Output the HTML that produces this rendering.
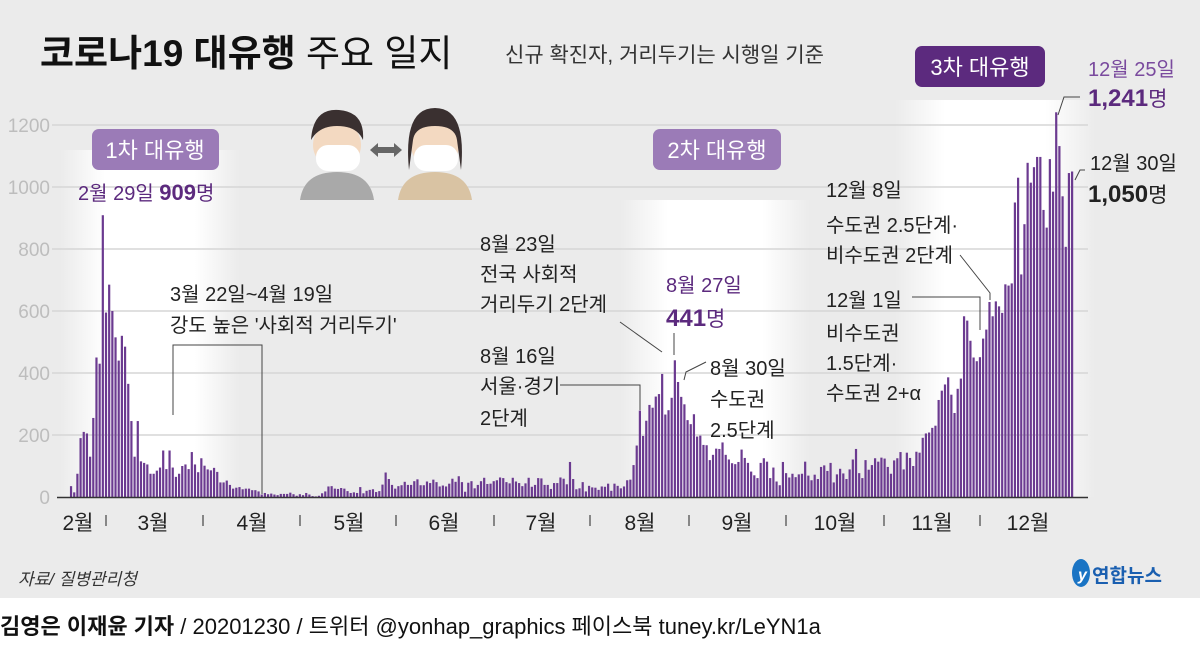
<!DOCTYPE html>
<html><head><meta charset="utf-8">
<style>
body{margin:0;width:1200px;height:643px;overflow:hidden;background:#fff;font-family:"Liberation Sans","Noto Sans CJK KR",sans-serif;}
svg text{font-family:"Liberation Sans","Noto Sans CJK KR",sans-serif;}
</style></head><body>
<svg id="c" width="1200" height="643" xmlns="http://www.w3.org/2000/svg">
<defs>
<linearGradient id="g" x1="0" x2="1" y1="0" y2="0">
<stop offset="0" stop-color="#fff" stop-opacity="0"/><stop offset="0.25" stop-color="#fff" stop-opacity="1"/><stop offset="0.75" stop-color="#fff" stop-opacity="1"/><stop offset="1" stop-color="#fff" stop-opacity="0"/></linearGradient>
</defs>
<rect x="0" y="0" width="1200" height="598" fill="#ebebeb"/>
<rect x="60" y="150" width="180" height="347" fill="url(#g)"/>
<rect x="620" y="200" width="190" height="297" fill="url(#g)"/>
<rect x="895" y="100" width="200" height="397" fill="url(#g)"/>
<g id="grid" stroke="#d6d6d6" stroke-width="1.5"></g>
<g id="ylab" fill="#bdbdbd" font-size="19" text-anchor="end"></g>
<g id="bars" fill="#6b3a90"></g>
<line x1="57" y1="497.5" x2="1088" y2="497.5" stroke="#333" stroke-width="1.5"/>
<g font-size="21" fill="#222" text-anchor="middle">
<text x="78" y="530">2월</text><text x="153" y="530">3월</text><text x="252" y="530">4월</text><text x="349" y="530">5월</text><text x="444" y="530">6월</text><text x="541" y="530">7월</text><text x="640" y="530">8월</text><text x="737" y="530">9월</text><text x="835" y="530">10월</text><text x="932" y="530">11월</text><text x="1028" y="530">12월</text>
</g>
<g stroke="#444" stroke-width="1.2">
<line x1="106" y1="515" x2="106" y2="526"/><line x1="203" y1="515" x2="203" y2="526"/><line x1="300" y1="515" x2="300" y2="526"/><line x1="396" y1="515" x2="396" y2="526"/><line x1="494" y1="515" x2="494" y2="526"/><line x1="590" y1="515" x2="590" y2="526"/><line x1="689" y1="515" x2="689" y2="526"/><line x1="786" y1="515" x2="786" y2="526"/><line x1="884" y1="515" x2="884" y2="526"/><line x1="980" y1="515" x2="980" y2="526"/>
</g>
<text x="40" y="66" font-size="37" font-weight="bold" fill="#111">코로나19 대유행 <tspan font-weight="normal">주요 일지</tspan></text>
<text x="505" y="62" font-size="21" fill="#333">신규 확진자, 거리두기는 시행일 기준</text>
<rect x="92" y="129" width="127" height="41" rx="7" fill="#9b7bb7"/>
<text x="155" y="158" font-size="22" fill="#fff" text-anchor="middle">1차 대유행</text>
<rect x="653" y="129" width="128" height="41" rx="7" fill="#9b7bb7"/>
<text x="717" y="158" font-size="22" fill="#fff" text-anchor="middle">2차 대유행</text>
<rect x="915" y="46" width="130" height="41" rx="7" fill="#5c2a7e"/>
<text x="980" y="75" font-size="22" fill="#fff" text-anchor="middle">3차 대유행</text>
<g>
<circle cx="337" cy="145" r="24" fill="#f3d9c1"/><path d="M311 140 q2 -32 28 -30 q26 2 24 30 q-6 -14 -26 -14 q-18 0 -26 14z" fill="#3a3030"/>
<rect x="316" y="145" width="44" height="26" rx="12" fill="#fff"/>
<path d="M300 200 q4 -28 37 -28 q33 0 37 28z" fill="#a9a9a9"/>
<circle cx="435" cy="145" r="24" fill="#f3d9c1"/><path d="M409 170 q-6 -62 26 -62 q32 0 26 62 l-4 -30 q-2 -14 -22 -14 q-20 0 -22 14z" fill="#3a3030"/>
<rect x="414" y="145" width="44" height="26" rx="12" fill="#fff"/>
<path d="M398 200 q4 -28 37 -28 q33 0 37 28z" fill="#d9c3a3"/>
<path d="M370 150 l8 -7 v4 h16 v-4 l8 7 l-8 7 v-4 h-16 v4z" fill="#666"/>
</g>
<g font-size="20" fill="#222">
<text x="78" y="200" fill="#5c2a7e">2월 29일 <tspan font-weight="bold" font-size="22">909</tspan>명</text>
<text x="1088" y="76" fill="#7a4a9e">12월 25일</text>
<text x="1088" y="106" fill="#5c2a7e" font-size="24" font-weight="bold">1,241<tspan font-weight="normal" font-size="21">명</tspan></text>
<text x="1090" y="170">12월 30일</text>
<text x="1088" y="202" font-size="24" font-weight="bold">1,050<tspan font-weight="normal" font-size="21">명</tspan></text>
<text x="826" y="197">12월 8일</text><text x="826" y="232">수도권 2.5단계·</text><text x="826" y="262">비수도권 2단계</text>
<text x="826" y="307">12월 1일</text><text x="826" y="340">비수도권</text><text x="826" y="370">1.5단계·</text><text x="826" y="400">수도권 2+α</text>
<text x="480" y="251">8월 23일</text><text x="480" y="281">전국 사회적</text><text x="480" y="311">거리두기 2단계</text>
<text x="666" y="292" fill="#5c2a7e">8월 27일</text>
<text x="666" y="326" fill="#5c2a7e" font-size="24" font-weight="bold">441<tspan font-weight="normal" font-size="21">명</tspan></text>
<text x="170" y="301">3월 22일~4월 19일</text><text x="170" y="332">강도 높은 '사회적 거리두기'</text>
<text x="480" y="363">8월 16일</text><text x="480" y="393">서울·경기</text><text x="480" y="425">2단계</text>
<text x="710" y="375">8월 30일</text><text x="710" y="406">수도권</text><text x="710" y="437">2.5단계</text>
<text x="18" y="585" font-size="17" fill="#333" font-style="italic">자료/ 질병관리청</text>
</g>
<g stroke="#444" stroke-width="1" fill="none">
<polyline points="173,415 173,345 262,345 262,494"/>
<polyline points="560,385 640,385 640,410"/>
<polyline points="620,322 662,352"/>
<line x1="674" y1="333" x2="674" y2="355"/>
<polyline points="684,380 686,372 706,362"/>
<polyline points="960,255 990,293 990,300"/>
<polyline points="912,297 980,297 980,330"/>
<polyline points="1058,115 1064,97 1080,97"/>
<polyline points="1075,180 1080,170 1085,170"/>
</g>
<ellipse cx="1081" cy="573" rx="9" ry="14" fill="#1a74c4"/>
<text x="1078" y="580" font-size="16" font-weight="bold" fill="#fff" font-style="italic">y</text>
<text x="1092" y="582" font-size="19" font-weight="bold" fill="#1a5fb0">연합뉴스</text>
<text x="0" y="634" font-size="22" fill="#111"><tspan font-weight="bold">김영은 이재윤 기자</tspan> / 20201230 / 트위터 @yonhap_graphics  페이스북 tuney.kr/LeYN1a</text>
</svg>
<script>
var ns="http://www.w3.org/2000/svg";
function el(n,a,p){var e=document.createElementNS(ns,n);for(var k in a)e.setAttribute(k,a[k]);p.appendChild(e);return e;}
var grid=document.getElementById('grid'),yl=document.getElementById('ylab');
for(var v=200;v<=1200;v+=200){var y=497-v*0.31;el('line',{x1:52,y1:y,x2:1088,y2:y},grid);}
for(var v=0;v<=1200;v+=200){var y=497-v*0.31;var t=el('text',{x:50,y:y+7},yl);t.textContent=v;}
var d=[35,15,75,190,210,205,130,255,450,430,909,
595,685,600,515,440,520,485,365,245,130,245,115,110,105,75,75,85,95,150,90,150,95,65,75,100,105,90,145,105,80,125,
101,89,86,94,81,47,47,53,39,27,30,32,25,27,27,22,22,18,8,13,9,11,8,6,10,10,10,14,9,4,
9,6,13,8,3,2,4,12,18,34,35,27,26,29,27,19,13,15,13,32,12,20,23,25,16,19,40,79,58,39,27,
35,38,49,39,39,51,57,38,38,50,45,56,48,34,37,34,43,59,49,67,48,17,46,51,28,39,51,62,42,43,
51,54,63,61,48,44,62,50,45,35,44,62,33,39,61,60,39,39,26,45,45,63,59,41,113,58,25,28,48,18,36,
31,30,23,34,33,43,20,43,36,28,34,54,56,103,166,279,197,246,297,288,324,332,397,266,280,320,441,371,323,299,248,
235,267,195,198,168,167,119,136,156,155,176,136,121,109,106,113,153,126,110,82,70,61,110,125,114,61,95,50,38,113,
77,63,75,64,73,75,114,69,54,72,58,97,102,84,110,47,73,91,76,58,89,121,155,77,61,119,88,103,125,114,127,
124,97,75,118,125,145,89,143,126,100,146,143,191,205,208,223,230,313,343,363,386,330,271,349,382,583,569,504,450,438,
451,511,540,629,583,631,615,594,686,682,689,950,1030,718,880,1078,1014,1064,1097,1097,926,869,1090,985,1241,1132,970,807,1045,1050];
var b=document.getElementById('bars');
for(var i=0;i<d.length;i++){var x=106+(i-11)*3.178;var h=d[i]*0.31;el('rect',{x:(x-1.1).toFixed(2),y:(497-h).toFixed(2),width:2.2,height:h.toFixed(2)},b);}
</script>
</body></html>
